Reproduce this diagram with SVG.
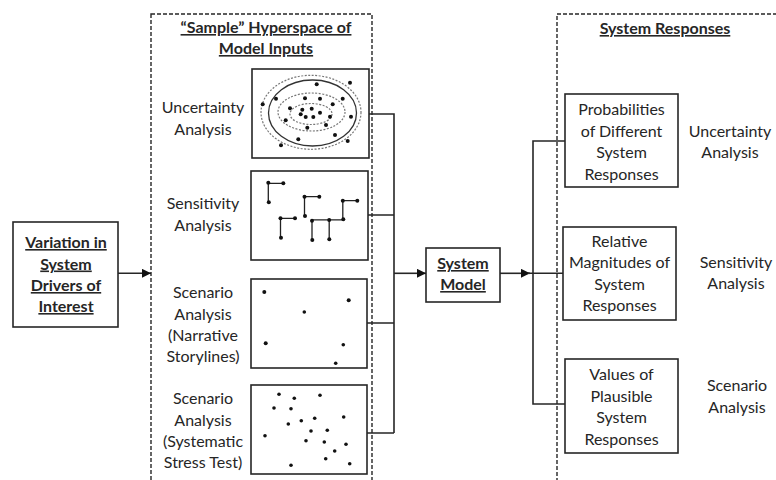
<svg xmlns="http://www.w3.org/2000/svg" width="776" height="480" viewBox="0 0 776 480">
<defs>
<style>
text{font-family:Lato,"Open Sans","Liberation Sans",sans-serif;font-size:16px;fill:#262626;text-anchor:middle}
.b{font-weight:bold;text-decoration:underline}
.box{fill:#fff;stroke:#262626;stroke-width:1.6}
.dash{fill:none;stroke:#262626;stroke-width:1.4;stroke-dasharray:4 2}
.ln{fill:none;stroke:#262626;stroke-width:1.6}
.el{fill:none;stroke:#777;stroke-width:1.2;stroke-dasharray:2 1.5}
.els{fill:none;stroke:#333;stroke-width:1.3}
.d{fill:#111}
.seg{stroke:#222;stroke-width:1.3;fill:none}
</style>
<marker id="ah" viewBox="0 0 10 10" refX="10" refY="5" markerWidth="10" markerHeight="9" markerUnits="userSpaceOnUse" orient="auto">
<path d="M0,0 L10,5 L0,10 z" fill="#111"/>
</marker>
</defs>
<rect width="776" height="480" fill="#fff"/>

<g id="inputs-panel">
<rect class="dash" x="151" y="14" width="221" height="480"/>
<text class="b" x="266" y="33">“Sample” Hyperspace of</text>
<text class="b" x="266" y="54">Model Inputs</text>
</g>

<g id="responses-panel">
<rect class="dash" x="557" y="14" width="240" height="480"/>
<text class="b" x="665" y="34">System Responses</text>
</g>

<g id="variation">
<rect class="box" x="13" y="222" width="105" height="105"/>
<text class="b" x="66" y="248">Variation in</text>
<text class="b" x="66" y="269.5">System</text>
<text class="b" x="66" y="291">Drivers of</text>
<text class="b" x="66" y="312">Interest</text>
</g>

<g id="uncertainty-sample">
<text x="203" y="113">Uncertainty</text>
<text x="203" y="134.5">Analysis</text>
<rect class="box" x="252" y="69" width="117" height="89"/>
<ellipse class="el" cx="311" cy="112.3" rx="50" ry="37"/>
<ellipse class="els" cx="312.5" cy="113" rx="44" ry="33"/>
<ellipse class="el" cx="311.5" cy="112" rx="33.5" ry="19"/>
<ellipse class="el" cx="311" cy="114" rx="21" ry="10.5"/>
<g class="d">
<circle cx="316.7" cy="84.3" r="2"/><circle cx="350" cy="82.7" r="2"/><circle cx="262.7" cy="104.3" r="2"/>
<circle cx="276" cy="98.7" r="2"/><circle cx="305" cy="98.3" r="2"/><circle cx="320" cy="98.7" r="2"/>
<circle cx="342.7" cy="98.7" r="2"/><circle cx="332.7" cy="104.3" r="2"/><circle cx="290" cy="108.3" r="2"/>
<circle cx="302.3" cy="109.7" r="2"/><circle cx="311.7" cy="108.7" r="2"/><circle cx="300.7" cy="114.3" r="2"/>
<circle cx="320" cy="112.7" r="2"/><circle cx="305.7" cy="117" r="2"/><circle cx="313.3" cy="117" r="2"/>
<circle cx="330" cy="116.7" r="2"/><circle cx="351" cy="116.7" r="2"/><circle cx="285.7" cy="120.3" r="2"/>
<circle cx="326" cy="125" r="2"/><circle cx="307.3" cy="127.7" r="2"/><circle cx="298.3" cy="139.3" r="2"/>
<circle cx="335" cy="135" r="2"/><circle cx="347.7" cy="141" r="2"/><circle cx="281" cy="145.3" r="2"/>
</g>
</g>

<g id="sensitivity-sample">
<text x="203" y="209">Sensitivity</text>
<text x="203" y="230.5">Analysis</text>
<rect class="box" x="251" y="171" width="117" height="89"/>
<path class="seg" d="M283.3,183.3 H268.3 V202.3 M319.3,196.7 H304.5 V216 M357.3,200.7 H342.8 V219.3 M295,218.3 H280.5 V237.7 M343,219.8 H312 V240 M329.2,220 V239.3"/>
<g class="d">
<circle cx="268.3" cy="182.7" r="2"/><circle cx="283.3" cy="183.3" r="2"/><circle cx="268.8" cy="202.3" r="2"/>
<circle cx="304.5" cy="196.7" r="2"/><circle cx="319.3" cy="196.7" r="2"/><circle cx="305" cy="216" r="2"/>
<circle cx="342.8" cy="200.7" r="2"/><circle cx="357.3" cy="200.7" r="2"/><circle cx="343.3" cy="219.3" r="2"/>
<circle cx="280.5" cy="218.3" r="2"/><circle cx="295" cy="218.3" r="2"/><circle cx="281" cy="237.7" r="2"/>
<circle cx="312" cy="220.7" r="2"/><circle cx="329.2" cy="220" r="2"/><circle cx="312.3" cy="240" r="2"/>
<circle cx="329.3" cy="239.3" r="2"/>
</g>
</g>

<g id="narrative-sample">
<text x="203" y="298">Scenario</text>
<text x="203" y="319.5">Analysis</text>
<text x="203" y="341">(Narrative</text>
<text x="203" y="362">Storylines)</text>
<rect class="box" x="251" y="279" width="116" height="89"/>
<g class="d">
<circle cx="264.3" cy="292" r="2"/><circle cx="348.7" cy="300.3" r="2"/><circle cx="304.3" cy="312" r="1.8"/>
<circle cx="265.7" cy="343.3" r="2"/><circle cx="343.3" cy="344.7" r="1.8"/><circle cx="335.7" cy="363.3" r="1.8"/>
</g>
</g>

<g id="systematic-sample">
<text x="203" y="404">Scenario</text>
<text x="203" y="425.5">Analysis</text>
<text x="203" y="447">(Systematic</text>
<text x="203" y="468">Stress Test)</text>
<rect class="box" x="251" y="385" width="116" height="89"/>
<g class="d">
<circle cx="279" cy="394.3" r="1.8"/><circle cx="294.3" cy="398.3" r="1.8"/><circle cx="320" cy="395.3" r="1.8"/>
<circle cx="274" cy="408" r="1.8"/><circle cx="291" cy="408.7" r="1.8"/><circle cx="343.7" cy="417" r="1.8"/>
<circle cx="288.3" cy="424" r="1.8"/><circle cx="301.3" cy="420.7" r="1.8"/><circle cx="314.7" cy="418.3" r="1.8"/>
<circle cx="311" cy="431" r="1.8"/><circle cx="327.3" cy="430.3" r="1.8"/><circle cx="265" cy="435.7" r="1.8"/>
<circle cx="306" cy="440.7" r="1.8"/><circle cx="324.3" cy="442" r="1.8"/><circle cx="346" cy="444.3" r="1.8"/>
<circle cx="334.7" cy="451" r="1.8"/><circle cx="325.7" cy="458.7" r="1.8"/><circle cx="291" cy="465.3" r="1.8"/>
<circle cx="349.7" cy="463.7" r="1.8"/>
</g>
</g>

<g id="system-model">
<rect class="box" x="426" y="248" width="74" height="54"/>
<text class="b" x="463" y="269">System</text>
<text class="b" x="463" y="290">Model</text>
</g>

<g id="probabilities">
<rect class="box" x="565" y="94" width="113" height="93"/>
<text x="621.5" y="115">Probabilities</text>
<text x="621.5" y="136.5">of Different</text>
<text x="621.5" y="158">System</text>
<text x="621.5" y="179.5">Responses</text>
<text x="730" y="136.5">Uncertainty</text>
<text x="730" y="158">Analysis</text>
</g>

<g id="magnitudes">
<rect class="box" x="563" y="227" width="113" height="93"/>
<text x="619.5" y="246.5">Relative</text>
<text x="619.5" y="268">Magnitudes of</text>
<text x="619.5" y="289.5">System</text>
<text x="619.5" y="311">Responses</text>
<text x="736" y="267.5">Sensitivity</text>
<text x="736" y="289">Analysis</text>
</g>

<g id="values">
<rect class="box" x="565" y="359" width="113" height="94"/>
<text x="621.5" y="380">Values of</text>
<text x="621.5" y="401.5">Plausible</text>
<text x="621.5" y="423">System</text>
<text x="621.5" y="444.5">Responses</text>
<text x="737" y="391">Scenario</text>
<text x="737" y="412.5">Analysis</text>
</g>

<g id="connectors">
<path class="ln" d="M118,273.3 H151" marker-end="url(#ah)"/>
<path class="ln" d="M369,114 H394 V433 M368,215 H394 M367,323 H394 M367,433 H394"/>
<path class="ln" d="M394,273.3 H426" marker-end="url(#ah)"/>
<path class="ln" d="M500,273.3 H530" marker-end="url(#ah)"/>
<path class="ln" d="M528,273.3 H563 M565,141 H533 V404 H565"/>
</g>
</svg>
